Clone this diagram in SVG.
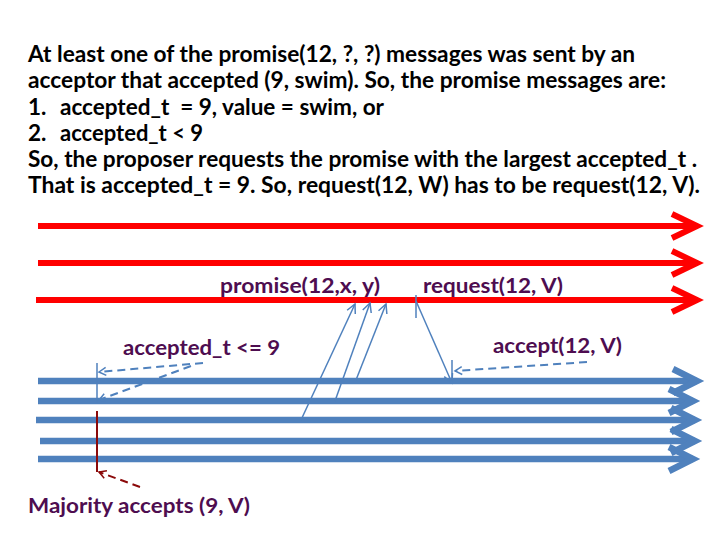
<svg xmlns="http://www.w3.org/2000/svg" width="720" height="540" viewBox="0 0 720 540">
<style>
.body{font-family:Lato,"Liberation Sans",sans-serif;font-weight:bold;font-size:22.5px;fill:#000;white-space:pre}
.lbl{font-family:Lato,"Liberation Sans",sans-serif;font-weight:bold;font-size:20px;fill:#4e0d50}
.red{stroke:#ff0000;stroke-width:6;fill:none}
.blue{stroke:#4f81bd;stroke-width:6.5;fill:none}
.msg{stroke:#4f81bd;stroke-width:1.5;fill:none}
.dash{stroke:#4f81bd;stroke-width:2;fill:none;stroke-dasharray:8 5}
.dred{stroke:#8b0a0a;stroke-width:2;fill:none}
.dreddash{stroke:#8b0a0a;stroke-width:2;fill:none;stroke-dasharray:8 5}
</style>
<defs>
<marker id="redHead" markerUnits="userSpaceOnUse" markerWidth="40" markerHeight="40" viewBox="-30 -20 40 40" refX="0" refY="0" orient="auto" overflow="visible">
<path d="M-25,-12 L0,0 L-25,12" fill="none" stroke="#ff0000" stroke-width="6"/>
</marker>
<marker id="blueHead" markerUnits="userSpaceOnUse" markerWidth="40" markerHeight="40" viewBox="-30 -20 40 40" refX="0" refY="0" orient="auto" overflow="visible">
<path d="M-24,-12 L0,0 L-24,12" fill="none" stroke="#4f81bd" stroke-width="6.5"/>
</marker>
<marker id="thinHead" markerUnits="userSpaceOnUse" markerWidth="20" markerHeight="20" viewBox="-10 -10 20 20" refX="0" refY="0" orient="auto" overflow="visible">
<path d="M-9,-4.5 L0,0 L-9,4.5" fill="none" stroke="#4f81bd" stroke-width="1.5"/>
</marker>
<marker id="dashHead" markerUnits="userSpaceOnUse" markerWidth="20" markerHeight="20" viewBox="-10 -10 20 20" refX="0" refY="0" orient="auto" overflow="visible">
<path d="M-7,-4 L0,0 L-7,4" fill="none" stroke="#4f81bd" stroke-width="1.5"/>
</marker>
<marker id="dredHead" markerUnits="userSpaceOnUse" markerWidth="20" markerHeight="20" viewBox="-10 -10 20 20" refX="0" refY="0" orient="auto" overflow="visible">
<path d="M-7,-4 L0,0 L-7,4" fill="none" stroke="#8b0a0a" stroke-width="1.5"/>
</marker>
</defs>
<rect width="720" height="540" fill="#fff"/>

<g id="description">
<text class="body" x="28" y="62" textLength="607" lengthAdjust="spacingAndGlyphs">At least one of the promise(12, ?, ?) messages was sent by an</text>
<text class="body" x="28" y="88" textLength="638" lengthAdjust="spacingAndGlyphs">acceptor that accepted (9, swim). So, the promise messages are:</text>
<text class="body" x="28" y="114.5">1.</text>
<text class="body" x="60" y="114.5" textLength="324" lengthAdjust="spacingAndGlyphs">accepted_t  = 9, value = swim, or</text>
<text class="body" x="28" y="140.5">2.</text>
<text class="body" x="60" y="140.5" textLength="143" lengthAdjust="spacingAndGlyphs">accepted_t &lt; 9</text>
<text class="body" x="28" y="166.5" textLength="669" lengthAdjust="spacingAndGlyphs">So, the proposer requests the promise with the largest accepted_t .</text>
<text class="body" x="28" y="192.5" textLength="672" lengthAdjust="spacingAndGlyphs">That is accepted_t = 9. So, request(12, W) has to be request(12, V).</text>
</g>

<g id="proposers">
<line class="red" x1="38" y1="226" x2="697" y2="226" marker-end="url(#redHead)"/>
<line class="red" x1="38" y1="263" x2="697" y2="263" marker-end="url(#redHead)"/>
<line class="red" x1="36" y1="300" x2="697" y2="300" marker-end="url(#redHead)"/>
</g>

<g id="acceptors">
<line class="blue" x1="38" y1="381" x2="697" y2="381" marker-end="url(#blueHead)"/>
<line class="blue" x1="38" y1="401" x2="693" y2="401" marker-end="url(#blueHead)"/>
<line class="blue" x1="36" y1="420" x2="695" y2="420" marker-end="url(#blueHead)"/>
<line class="blue" x1="40" y1="441" x2="695" y2="441" marker-end="url(#blueHead)"/>
<line class="blue" x1="38" y1="459" x2="693" y2="459" marker-end="url(#blueHead)"/>
</g>

<g id="connectors">
<line class="msg" x1="301" y1="420" x2="355" y2="304" marker-end="url(#thinHead)"/>
<line class="msg" x1="335" y1="401" x2="370" y2="303" marker-end="url(#thinHead)"/>
<line class="msg" x1="356" y1="380" x2="386" y2="304" marker-end="url(#thinHead)"/>
<line class="msg" x1="416" y1="295" x2="416" y2="318"/>
<line class="msg" x1="416" y1="301" x2="452" y2="383" marker-end="url(#thinHead)"/>
<line class="msg" x1="452" y1="360" x2="452" y2="381"/>
<line class="dash" x1="587" y1="362" x2="455" y2="371" marker-end="url(#dashHead)"/>
<line class="msg" x1="97" y1="363" x2="97" y2="403"/>
<line class="dash" x1="203" y1="363" x2="99" y2="372" marker-end="url(#dashHead)"/>
<line class="dash" x1="191" y1="366" x2="99" y2="400" marker-end="url(#dashHead)"/>
<line class="dred" x1="97" y1="411" x2="97" y2="472"/>
<line class="dreddash" x1="140" y1="487" x2="99" y2="472" marker-end="url(#dredHead)"/>
</g>

<g id="labels">
<text class="lbl" x="220" y="293" textLength="160" lengthAdjust="spacingAndGlyphs">promise(12,x, y)</text>
<text class="lbl" x="423" y="293" textLength="140" lengthAdjust="spacingAndGlyphs">request(12, V)</text>
<text class="lbl" x="123" y="355" textLength="157" lengthAdjust="spacingAndGlyphs">accepted_t &lt;= 9</text>
<text class="lbl" x="493" y="353" textLength="129" lengthAdjust="spacingAndGlyphs">accept(12, V)</text>
<text class="lbl" x="28" y="513" textLength="222" lengthAdjust="spacingAndGlyphs">Majority accepts (9, V)</text>
</g>
</svg>
